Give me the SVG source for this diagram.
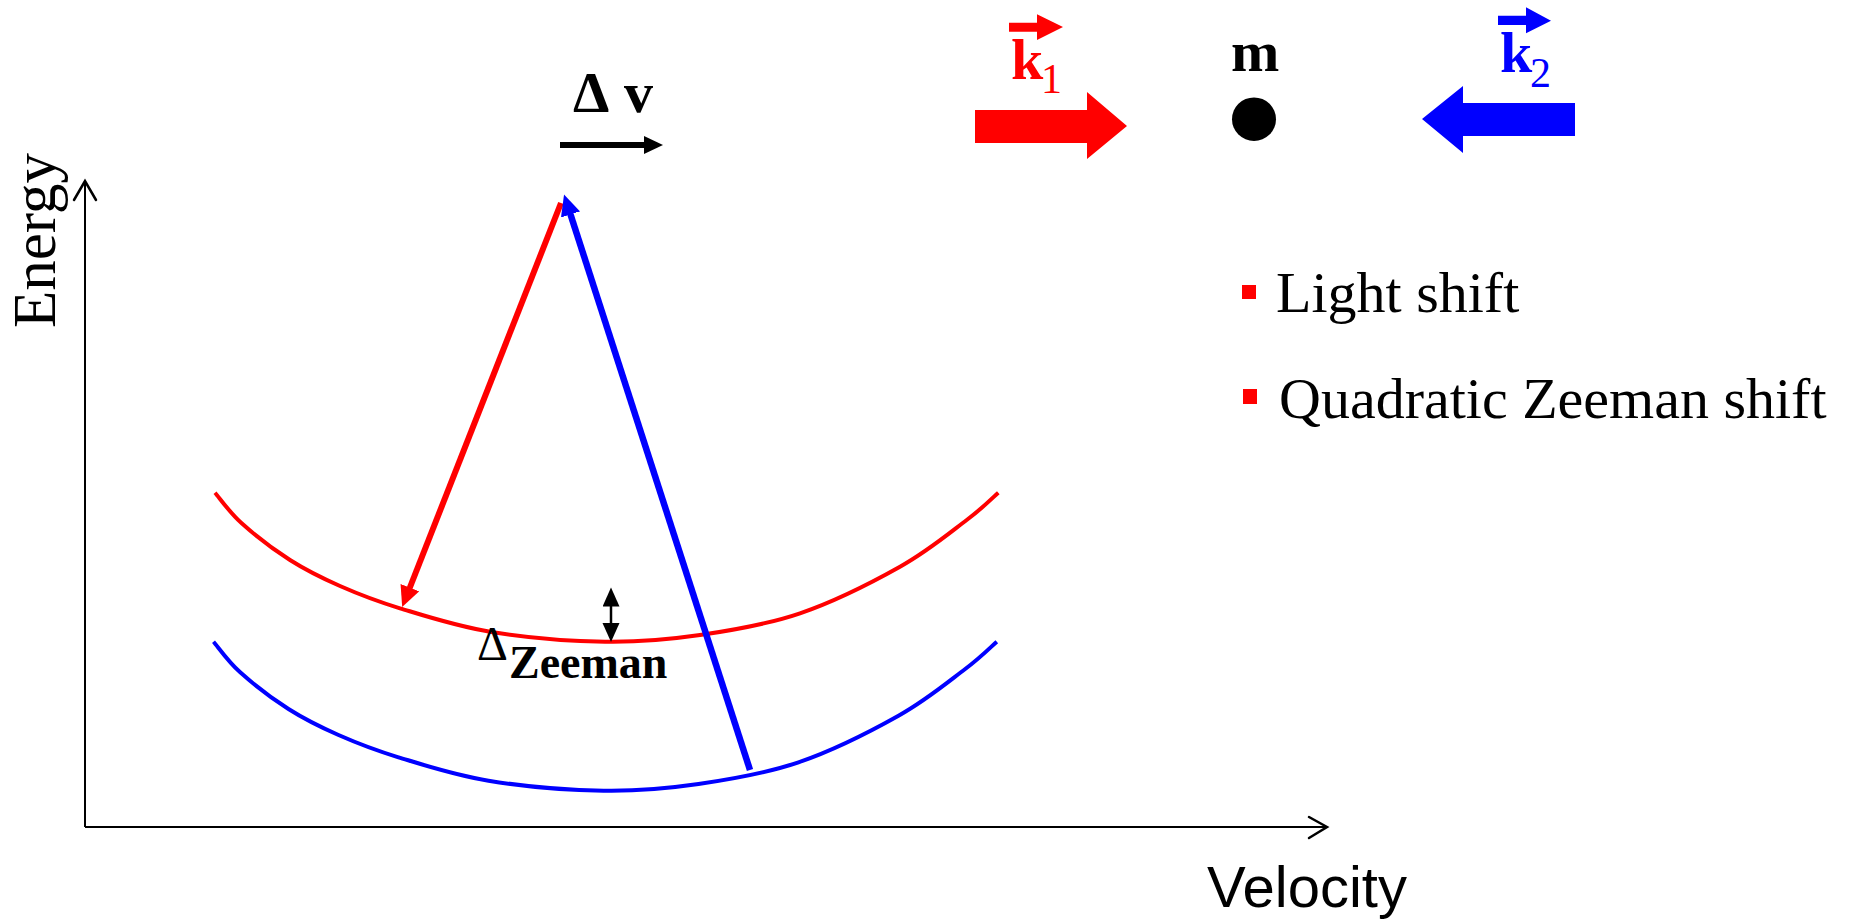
<svg xmlns="http://www.w3.org/2000/svg" width="1858" height="922" viewBox="0 0 1858 922">
<style>
.serif{font-family:"Liberation Serif","Times New Roman",serif}
.sans{font-family:"Liberation Sans",Arial,sans-serif}
.b{font-weight:bold}
.axis{stroke:#000;stroke-width:2;fill:none}
.chev{stroke:#000;stroke-width:2.5;fill:none;stroke-linecap:round;stroke-linejoin:miter}
.curve{fill:none;stroke-width:4;stroke-linejoin:round}
</style>
<defs>
<path id="level" d="M215,492.7 C219.5,497.8 229.2,512.1 241.7,523.3 C254.2,534.5 273.6,549.55 290,560 C306.4,570.45 321.7,577.95 340,586 C358.3,594.05 375,600.7 400,608.3 C425,615.9 455.8,626.1 490,631.7 C524.2,637.3 570,641.2 605,641.7 C640,642.3 667.5,639.7 700,635 C732.5,630.3 766.7,624.7 800,613.3 C833.3,601.9 872.2,582.3 900,566.7 C927.8,551.2 950.3,532.3 966.7,520 C983.1,507.7 993,497.3 998.3,492.7"/>
<marker id="hr" markerUnits="userSpaceOnUse" markerWidth="22" markerHeight="22" refX="1" refY="10" orient="auto"><path d="M0,0 L21,10 L0,20 z" fill="#ff0000"/></marker>
<marker id="hb" markerUnits="userSpaceOnUse" markerWidth="22" markerHeight="22" refX="1" refY="10" orient="auto"><path d="M0,0 L21,10 L0,20 z" fill="#0000ff"/></marker>
<marker id="hk" markerUnits="userSpaceOnUse" markerWidth="22" markerHeight="22" refX="1" refY="9" orient="auto"><path d="M0,0 L19,9 L0,18 z" fill="#000"/></marker>
<marker id="hks" markerUnits="userSpaceOnUse" markerWidth="20" markerHeight="20" refX="1" refY="8.5" orient="auto"><path d="M0,0 L19,8.5 L0,17 z" fill="#000"/></marker>
</defs>
<rect width="1858" height="922" fill="#fff"/>

<g id="axes">
<line class="axis" x1="85" y1="827" x2="85" y2="181"/>
<polyline class="chev" points="74,200 85,181 96,200"/>
<line class="axis" x1="85" y1="827" x2="1327" y2="827"/>
<polyline class="chev" points="1309,817 1327,827 1309,838"/>
<text class="serif" transform="translate(55,328) rotate(-90)" font-size="61">Energy</text>
<text class="sans" x="1207" y="907" font-size="58">Velocity</text>
</g>

<g id="upper-level">
<use href="#level" class="curve" stroke="#ff0000"/>
</g>
<g id="lower-level">
<use href="#level" class="curve" stroke="#0000ff" transform="translate(-1.5,149)"/>
</g>

<g id="connectors">
<line x1="561" y1="203" x2="409.5" y2="588.5" stroke="#ff0000" stroke-width="6" marker-end="url(#hr)"/>
<line x1="750" y1="770" x2="570.2" y2="213.5" stroke="#0000ff" stroke-width="6.5" marker-end="url(#hb)"/>
<line x1="560" y1="145" x2="645" y2="145" stroke="#000" stroke-width="6" marker-end="url(#hk)"/>
<line x1="611" y1="614" x2="611" y2="605.5" stroke="#000" stroke-width="2.5" marker-end="url(#hks)"/>
<line x1="611" y1="614" x2="611" y2="624" stroke="#000" stroke-width="2.5" marker-end="url(#hks)"/>
</g>

<g id="delta-v">
<text class="serif b" y="112" font-size="58"><tspan x="573">Δ</tspan><tspan x="624">v</tspan></text>
</g>

<g id="delta-zeeman">
<text class="serif" x="477" y="660" font-size="48">Δ</text>
<text class="serif b" x="509" y="678" font-size="46">Zeeman</text>
</g>

<g id="k1">
<polygon points="975,110 1087,110 1087,92 1127,126 1087,159 1087,143 975,143" fill="#ff0000"/>
<polygon points="1009,22.7 1037,22.7 1037,14.3 1063,27 1037,40 1037,31.7 1009,31.7" fill="#ff0000"/>
<text class="serif b" fill="#ff0000" x="1011" y="79" font-size="58">k</text>
<text class="serif" fill="#ff0000" x="1041" y="93" font-size="42">1</text>
</g>

<g id="mass">
<ellipse cx="1254" cy="119.2" rx="22" ry="21.8" fill="#000"/>
<text class="serif b" x="1231" y="71" font-size="58">m</text>
</g>

<g id="k2">
<polygon points="1575,103 1463,103 1463,86 1422,119 1463,153 1463,136 1575,136" fill="#0000ff"/>
<polygon points="1498,15.7 1526,15.7 1526,7.3 1551,20.7 1526,33.3 1526,25 1498,25" fill="#0000ff"/>
<text class="serif b" fill="#0000ff" x="1500" y="72" font-size="58">k</text>
<text class="serif" fill="#0000ff" x="1530" y="87" font-size="42">2</text>
</g>

<g id="legend-light-shift">
<rect x="1242" y="285" width="14" height="14" fill="#ff0000"/>
<text class="serif" x="1276" y="312" font-size="58">Light shift</text>
</g>
<g id="legend-zeeman-shift">
<rect x="1243" y="389" width="14" height="15" fill="#ff0000"/>
<text class="serif" x="1279" y="418" font-size="58">Quadratic Zeeman shift</text>
</g>
</svg>
